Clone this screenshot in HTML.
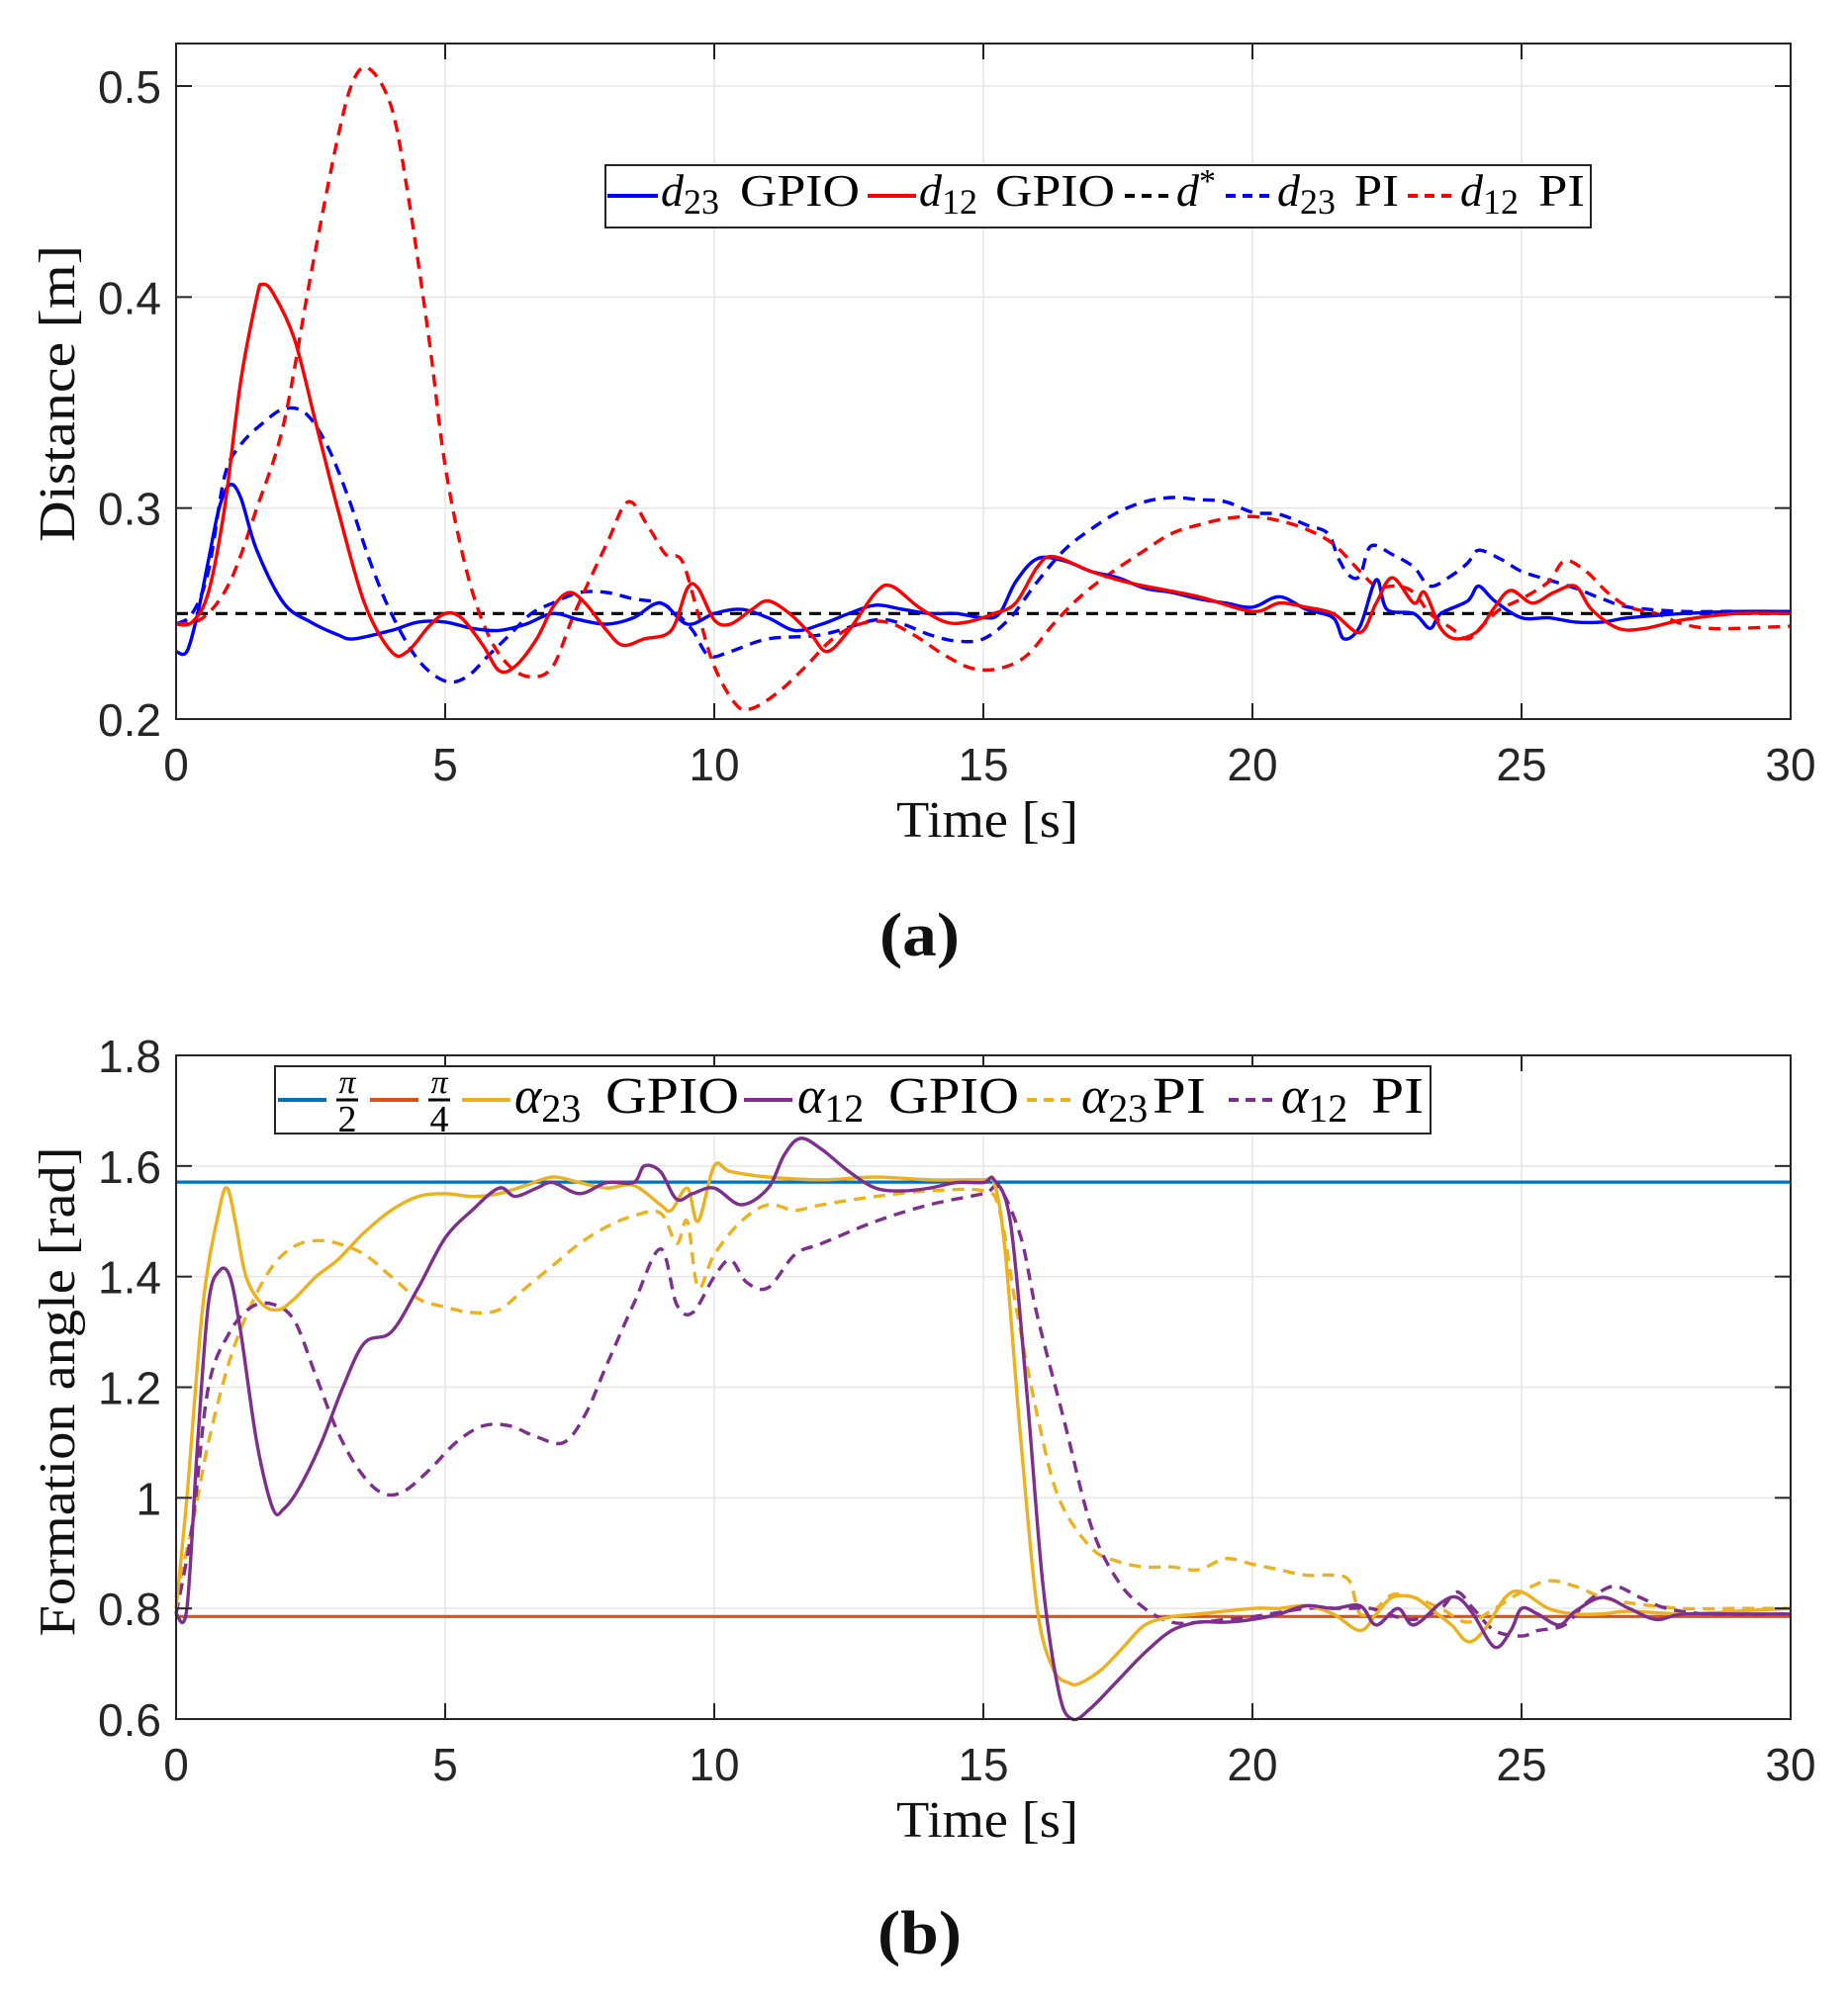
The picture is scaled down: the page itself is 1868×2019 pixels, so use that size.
<!DOCTYPE html>
<html><head><meta charset="utf-8"><style>
html,body{margin:0;padding:0;background:#fff;}
svg{display:block;}
.tick{font-family:"Liberation Sans",sans-serif;font-size:46px;fill:#262626;}
.lab{font-family:"Liberation Serif",serif;fill:#111;}
.leg{font-family:"Liberation Serif",serif;fill:#000;}
</style></head><body>
<svg id="fig" width="1868" height="2019" viewBox="0 0 1868 2019" xmlns="http://www.w3.org/2000/svg"></svg>
<script>
// ---------- Panel (a) data ----------
const xTicks = [0,5,10,15,20,25,30];
const yTicksA = [0.2,0.3,0.4,0.5];
const yTickLabelsA = ["0.2","0.3","0.4","0.5"];
const dStar = 0.25;
const d23gT = [0,0.2,0.4,0.6,0.8,1.0,1.2,1.5,2,2.5,3,3.3,4,4.5,5,5.5,6,6.5,7,7.5,8,8.5,9,9.5,10,10.5,11,11.5,12,12.5,13,13.5,14,14.5,15,15.3,15.6,16,16.5,17,17.5,18,18.5,19,19.5,20,20.5,21,21.5,21.7,22,22.3,22.5,23,23.3,23.5,24,24.2,24.5,25,25.5,26,26.5,27,28,29,30];
const d23gV = [0.232,0.232,0.25,0.275,0.3,0.311,0.305,0.28,0.255,0.246,0.24,0.238,0.242,0.246,0.246,0.243,0.242,0.245,0.25,0.247,0.245,0.248,0.255,0.245,0.25,0.252,0.248,0.242,0.245,0.25,0.254,0.252,0.25,0.25,0.248,0.25,0.265,0.276,0.275,0.27,0.267,0.262,0.26,0.257,0.255,0.253,0.258,0.252,0.248,0.238,0.244,0.266,0.252,0.25,0.243,0.25,0.256,0.263,0.256,0.248,0.248,0.246,0.246,0.248,0.25,0.251,0.251];
const d12gT = [0,0.3,0.6,0.9,1.2,1.5,1.6,1.8,2.2,2.6,3,3.5,4,4.3,4.7,5,5.3,5.7,6,6.3,6.7,7,7.3,7.6,8,8.3,8.7,9.2,9.5,9.7,10,10.3,10.7,11,11.4,11.8,12.1,12.5,13,13.3,13.8,14.3,14.7,15.2,15.6,16,16.3,17,17.5,18,19,20,20.5,21,21.5,22,22.3,22.6,23,23.2,23.5,23.8,24.2,24.5,24.8,25.2,25.6,26,26.3,26.8,27.3,28,29,30];
const d12gV = [0.245,0.246,0.26,0.3,0.36,0.4,0.406,0.402,0.38,0.34,0.3,0.255,0.232,0.232,0.244,0.25,0.248,0.235,0.223,0.225,0.238,0.253,0.26,0.255,0.242,0.235,0.238,0.242,0.262,0.262,0.247,0.245,0.252,0.256,0.25,0.24,0.232,0.242,0.26,0.263,0.253,0.246,0.246,0.25,0.255,0.272,0.277,0.27,0.266,0.263,0.258,0.251,0.255,0.253,0.25,0.241,0.255,0.267,0.255,0.26,0.243,0.238,0.242,0.253,0.261,0.255,0.26,0.263,0.252,0.243,0.243,0.247,0.25,0.25];
const d23pT = [0,0.3,0.6,0.9,1.2,1.6,2,2.4,2.8,3.2,3.6,4,4.5,5,5.4,5.8,6.2,6.6,7,7.5,8,8.5,9,9.3,9.6,9.9,10.3,11,12,13,13.5,14,14.5,15,15.5,16,16.5,17,17.5,18,18.5,19,19.5,20,20.5,21,21.4,21.6,21.8,22,22.2,22.6,23,23.3,23.7,24,24.2,24.6,25,25.5,26,26.5,27,28,29,30];
const d23pV = [0.245,0.25,0.27,0.315,0.33,0.34,0.347,0.345,0.33,0.305,0.275,0.25,0.228,0.218,0.22,0.23,0.24,0.25,0.255,0.26,0.26,0.257,0.255,0.25,0.242,0.23,0.232,0.238,0.24,0.247,0.245,0.24,0.237,0.238,0.248,0.265,0.28,0.29,0.298,0.303,0.305,0.304,0.303,0.298,0.297,0.292,0.288,0.276,0.268,0.268,0.282,0.278,0.272,0.263,0.268,0.274,0.28,0.276,0.27,0.266,0.262,0.257,0.253,0.251,0.251,0.25];
const d12pT = [0,0.5,1,1.5,2,2.5,3,3.3,3.6,4,4.3,4.7,5,5.4,5.8,6.2,6.6,7,7.4,8,8.4,8.8,9.1,9.4,9.7,10,10.4,10.7,11.2,11.7,12.2,12.7,13.2,13.7,14.3,14.8,15.3,15.8,16.3,16.8,17.3,18,18.5,19,19.5,20,20.5,21,21.5,22,22.3,22.7,23,23.3,23.7,24,24.3,24.6,25,25.5,25.8,26.2,26.6,27,27.5,28,28.5,29,30];
const d12pV = [0.245,0.248,0.265,0.3,0.34,0.41,0.475,0.503,0.508,0.49,0.45,0.38,0.32,0.27,0.24,0.225,0.22,0.225,0.25,0.283,0.303,0.29,0.278,0.275,0.25,0.225,0.207,0.205,0.213,0.225,0.238,0.245,0.246,0.24,0.23,0.224,0.224,0.23,0.245,0.258,0.268,0.28,0.288,0.292,0.295,0.296,0.294,0.29,0.283,0.27,0.263,0.263,0.26,0.25,0.243,0.238,0.245,0.252,0.257,0.265,0.275,0.27,0.26,0.253,0.25,0.245,0.243,0.243,0.244];

// ---------- Panel (b) data ----------
const yTicksB = [0.6,0.8,1.0,1.2,1.4,1.6,1.8];
const yTickLabelsB = ["0.6","0.8","1","1.2","1.4","1.6","1.8"];
const refHalfPi = 1.5708;
const refQuarterPi = 0.7854;
const a23gT = [0,0.2,0.5,0.8,0.95,1.1,1.3,1.6,1.9,2.2,2.6,3,3.5,4,4.5,5,5.5,6,6.5,7,7.5,8,8.5,9,9.2,9.5,9.7,10,10.3,11,12,13,14,15,15.2,15.4,15.7,16,16.3,16.6,16.8,17.2,17.6,18,18.5,19,20,20.5,21,21.5,22,22.3,22.6,23,23.3,23.7,24,24.3,24.7,25,25.5,26,26.5,27,28,29,30];
const a23gV = [0.8,1.0,1.35,1.52,1.56,1.5,1.4,1.35,1.34,1.36,1.4,1.43,1.48,1.52,1.545,1.55,1.545,1.55,1.565,1.58,1.57,1.56,1.565,1.53,1.52,1.56,1.5,1.6,1.59,1.58,1.575,1.58,1.575,1.575,1.57,1.45,1.1,0.8,0.69,0.665,0.665,0.69,0.73,0.77,0.785,0.79,0.8,0.8,0.805,0.79,0.76,0.79,0.82,0.82,0.8,0.77,0.74,0.76,0.82,0.83,0.8,0.79,0.79,0.795,0.79,0.795,0.8];
const a12gT = [0,0.2,0.4,0.6,0.8,1.0,1.2,1.5,1.8,2.0,2.3,2.7,3.1,3.5,4,4.5,5,5.5,6,6.3,6.7,7,7.5,8,8.5,8.7,9,9.3,9.6,10,10.5,11,11.3,11.6,12,12.5,13,13.5,14,14.5,15,15.2,15.5,15.8,16.1,16.4,16.65,17,17.5,18,18.5,19,19.5,20,20.5,21,21.5,22,22.3,22.7,23,23.5,23.8,24.1,24.5,24.8,25,25.3,25.7,26,26.5,27,27.5,28,29,30];
const a12gV = [0.79,0.8,1.1,1.35,1.41,1.4,1.3,1.1,0.98,0.98,1.02,1.1,1.2,1.28,1.3,1.38,1.47,1.52,1.56,1.545,1.56,1.57,1.55,1.57,1.57,1.6,1.59,1.54,1.55,1.56,1.53,1.56,1.62,1.65,1.63,1.59,1.56,1.555,1.56,1.57,1.57,1.575,1.5,1.2,0.85,0.65,0.6,0.62,0.67,0.72,0.76,0.775,0.775,0.78,0.79,0.805,0.8,0.805,0.77,0.8,0.77,0.81,0.82,0.79,0.73,0.76,0.8,0.79,0.77,0.795,0.82,0.8,0.78,0.79,0.79,0.79];
const a23pT = [0,0.3,0.6,1,1.4,1.8,2.2,2.6,3,3.5,4,4.5,5,5.5,6,6.5,7,7.5,8,8.5,9,9.3,9.5,9.7,10,10.5,11,11.5,12,13,14,15,15.3,15.6,16,16.4,17,17.5,18,18.5,19,19.5,20,20.5,21,21.5,21.8,22,22.3,22.6,23,23.5,24,24.5,25,25.5,26,26.5,27,28,29,30];
const a23pV = [0.82,0.95,1.1,1.25,1.35,1.42,1.455,1.465,1.46,1.44,1.4,1.36,1.345,1.335,1.34,1.38,1.42,1.46,1.49,1.51,1.515,1.46,1.5,1.38,1.44,1.5,1.53,1.52,1.53,1.545,1.555,1.555,1.52,1.35,1.15,1.0,0.91,0.885,0.875,0.875,0.87,0.89,0.88,0.87,0.86,0.86,0.85,0.79,0.8,0.825,0.82,0.8,0.775,0.8,0.83,0.85,0.84,0.82,0.81,0.8,0.8,0.8];
const a12pT = [0,0.3,0.6,1,1.4,1.8,2.2,2.6,3,3.4,3.8,4.2,4.7,5.2,5.7,6.2,6.7,7.2,7.6,8,8.5,9,9.3,9.6,10,10.3,10.6,11,11.5,12,13,14,15,15.3,15.7,16,16.5,17,17.5,18,18.5,19,19.5,20,21,21.7,22.2,22.5,23,23.5,23.8,24.1,24.5,25,25.3,25.8,26.2,26.7,27.2,27.7,28.5,30];
const a12pV = [0.79,0.95,1.2,1.3,1.345,1.35,1.32,1.22,1.12,1.05,1.01,1.01,1.05,1.1,1.13,1.13,1.11,1.1,1.15,1.24,1.35,1.45,1.35,1.335,1.4,1.43,1.39,1.38,1.44,1.46,1.5,1.53,1.55,1.56,1.47,1.33,1.14,0.95,0.85,0.8,0.775,0.775,0.78,0.785,0.8,0.8,0.8,0.79,0.78,0.8,0.83,0.8,0.76,0.75,0.76,0.77,0.81,0.84,0.82,0.8,0.79,0.79];

const NS = "http://www.w3.org/2000/svg";
const svg = document.getElementById('fig');
function mk(tag, attrs, parent){
  const e = document.createElementNS(NS, tag);
  for (const k in attrs) e.setAttribute(k, attrs[k]);
  (parent||svg).appendChild(e);
  return e;
}
const X0 = 178, X1 = 1810;
function xs(t){ return X0 + (t/30)*(X1-X0); }
function ysA(v){ return 727 - (v-0.2)/0.3*(727-87); }
function ysB(v){ return 1738 - (v-0.6)/1.2*(1738-1067); }

function panel(top, bottom, yTicks, yLabels, ys, name){
  const g = mk('g', {});
  
  
  mk('rect', {x:X0, y:top, width:X1-X0, height:bottom-top, fill:'#fff'}, g);
  xTicks.forEach(t=>{
    const l = mk('line', {x1:xs(t), x2:xs(t), y1:top, y2:bottom, stroke:'#e5e5e5', 'stroke-width':1.5}, g);
    
    
  });
  yTicks.forEach(v=>{
    const l = mk('line', {x1:X0, x2:X1, y1:ys(v), y2:ys(v), stroke:'#e5e5e5', 'stroke-width':1.5}, g);
    
    
  });
  return g;
}
function frame(top, bottom, yTicks, yLabels, ys){
  const g = mk('g', {});
  
  
  mk('rect', {x:X0, y:top, width:X1-X0, height:bottom-top, fill:'none', stroke:'#262626', 'stroke-width':2}, g);
  xTicks.forEach(t=>{
    mk('line', {x1:xs(t), x2:xs(t), y1:bottom, y2:bottom-16, stroke:'#262626', 'stroke-width':2}, g);
    mk('line', {x1:xs(t), x2:xs(t), y1:top, y2:top+16, stroke:'#262626', 'stroke-width':2}, g);
    const tx = mk('text', {x:xs(t), y:bottom+62, 'text-anchor':'middle', class:'tick'}, g);
    tx.textContent = String(t);
    
    
  });
  yTicks.forEach((v,i)=>{
    mk('line', {x1:X0, x2:X0+16, y1:ys(v), y2:ys(v), stroke:'#262626', 'stroke-width':2}, g);
    mk('line', {x1:X1, x2:X1-16, y1:ys(v), y2:ys(v), stroke:'#262626', 'stroke-width':2}, g);
    const tx = mk('text', {x:163, y:ys(v)+17, 'text-anchor':'end', class:'tick'}, g);
    tx.textContent = yLabels[i];
    
    
  });
}
function series(T, V, ys, color, dash, name){
  const P = T.map((t,i)=>[xs(t), ys(V[i])]);
  let d = 'M' + P[0][0].toFixed(1) + ',' + P[0][1].toFixed(1);
  for (let i=0;i<P.length-1;i++){
    const p0 = P[Math.max(0,i-1)], p1 = P[i], p2 = P[i+1], p3 = P[Math.min(P.length-1,i+2)];
    const k = 1/6;
    const c1 = [p1[0]+(p2[0]-p0[0])*k, p1[1]+(p2[1]-p0[1])*k];
    const c2 = [p2[0]-(p3[0]-p1[0])*k, p2[1]-(p3[1]-p1[1])*k];
    d += 'C' + c1[0].toFixed(1)+','+c1[1].toFixed(1)+' '+c2[0].toFixed(1)+','+c2[1].toFixed(1)+' '+p2[0].toFixed(1)+','+p2[1].toFixed(1);
  }
  const p = mk('path', {d:d, fill:'none', stroke:color, 'stroke-width':3.4, 'stroke-linejoin':'round'});
  if (dash) p.setAttribute('stroke-dasharray', dash);
  
  
}
function hline(v, ys, color, dash, name){
  const l = mk('line', {x1:X0, x2:X1, y1:ys(v), y2:ys(v), stroke:color, 'stroke-width':3.2});
  if (dash) l.setAttribute('stroke-dasharray', dash);
  
  
}

// Panel (a)
panel(44, 727, yTicksA, yTickLabelsA, ysA, 'distance-plot');
hline(dStar, ysA, '#000', '12,8', 'd-star-line');
series(d23pT, d23pV, ysA, '#0000ff', '12,8', 'd23-pi-line');
series(d12pT, d12pV, ysA, '#ff0000', '12,8', 'd12-pi-line');
series(d23gT, d23gV, ysA, '#0000ff', null, 'd23-gpio-line');
series(d12gT, d12gV, ysA, '#ff0000', null, 'd12-gpio-line');
frame(44, 727, yTicksA, yTickLabelsA, ysA);

// Panel (b)
panel(1067, 1738, yTicksB, yTickLabelsB, ysB, 'angle-plot');
hline(refHalfPi, ysB, '#0072BD', null, 'half-pi-line');
hline(refQuarterPi, ysB, '#D95319', null, 'quarter-pi-line');
series(a23pT, a23pV, ysB, '#EDB120', '12,8', 'alpha23-pi-line');
series(a12pT, a12pV, ysB, '#7E2F8E', '12,8', 'alpha12-pi-line');
series(a23gT, a23gV, ysB, '#EDB120', null, 'alpha23-gpio-line');
series(a12gT, a12gV, ysB, '#7E2F8E', null, 'alpha12-gpio-line');
frame(1067, 1738, yTicksB, yTickLabelsB, ysB);
</script>
<svg style="position:absolute;left:0;top:0" width="1868" height="2019" xmlns="http://www.w3.org/2000/svg">
  <text class="lab" font-size="52" transform="translate(75,398) rotate(-90)" text-anchor="middle" textLength="300" lengthAdjust="spacingAndGlyphs">Distance [m]</text>
  <text class="lab" font-size="52" x="906" y="846" textLength="184" lengthAdjust="spacingAndGlyphs">Time [s]</text>
  <text class="lab" font-size="62" font-weight="bold" x="889" y="966" textLength="81" lengthAdjust="spacingAndGlyphs">(a)</text>

  <g>
    <rect x="612" y="167" width="996" height="63" fill="#fff" stroke="#262626" stroke-width="2"/>
    <line x1="614" x2="665" y1="198" y2="198" stroke="#0000ff" stroke-width="4"/>
    <text class="leg" font-size="46" x="668" y="208"><tspan font-style="italic">d</tspan><tspan font-size="36" dy="8">23</tspan><tspan dy="-8" x="748" textLength="121" lengthAdjust="spacingAndGlyphs">GPIO</tspan></text>
    <line x1="877" x2="926" y1="198" y2="198" stroke="#ff0000" stroke-width="4"/>
    <text class="leg" font-size="46" x="929" y="208"><tspan font-style="italic">d</tspan><tspan font-size="36" dy="8">12</tspan><tspan dy="-8" x="1006" textLength="121" lengthAdjust="spacingAndGlyphs">GPIO</tspan></text>
    <line x1="1137" x2="1186" y1="198" y2="198" stroke="#000" stroke-width="4" stroke-dasharray="10,7"/>
    <text class="leg" font-size="46" x="1189" y="208"><tspan font-style="italic">d</tspan><tspan font-size="34" dy="-14">*</tspan></text>
    <line x1="1239" x2="1287" y1="198" y2="198" stroke="#0000ff" stroke-width="4" stroke-dasharray="10,7"/>
    <text class="leg" font-size="46" x="1291" y="208"><tspan font-style="italic">d</tspan><tspan font-size="36" dy="8">23</tspan><tspan dy="-8" x="1369" textLength="45" lengthAdjust="spacingAndGlyphs">PI</tspan></text>
    <line x1="1423" x2="1471" y1="198" y2="198" stroke="#ff0000" stroke-width="4" stroke-dasharray="10,7"/>
    <text class="leg" font-size="46" x="1476" y="208"><tspan font-style="italic">d</tspan><tspan font-size="36" dy="8">12</tspan><tspan dy="-8" x="1555" textLength="47" lengthAdjust="spacingAndGlyphs">PI</tspan></text>
  </g>

  <text class="lab" font-size="52" transform="translate(75,1407) rotate(-90)" text-anchor="middle" textLength="495" lengthAdjust="spacingAndGlyphs">Formation angle [rad]</text>
  <text class="lab" font-size="52" x="906" y="1857" textLength="184" lengthAdjust="spacingAndGlyphs">Time [s]</text>
  <text class="lab" font-size="62" font-weight="bold" x="887" y="1975" textLength="85" lengthAdjust="spacingAndGlyphs">(b)</text>

  <g>
    <rect x="278" y="1078" width="1168" height="68" fill="#fff" stroke="#262626" stroke-width="2"/>
    <line x1="281" x2="330" y1="1112" y2="1112" stroke="#0072BD" stroke-width="4"/>
    <g>
      <text class="leg" font-size="34" x="351" y="1105" text-anchor="middle" font-style="italic">π</text>
      <line x1="340" x2="362" y1="1112" y2="1112" stroke="#000" stroke-width="3"/>
      <text class="leg" font-size="38" x="351" y="1144" text-anchor="middle">2</text>
    </g>
    <line x1="374" x2="423" y1="1112" y2="1112" stroke="#D95319" stroke-width="4"/>
    <g>
      <text class="leg" font-size="34" x="444" y="1105" text-anchor="middle" font-style="italic">π</text>
      <line x1="433" x2="455" y1="1112" y2="1112" stroke="#000" stroke-width="3"/>
      <text class="leg" font-size="38" x="444" y="1144" text-anchor="middle">4</text>
    </g>
    <line x1="467" x2="516" y1="1112" y2="1112" stroke="#EDB120" stroke-width="4"/>
    <text class="leg" font-size="52" x="520" y="1125"><tspan font-style="italic">α</tspan><tspan font-size="40" dy="9">23</tspan><tspan dy="-9" x="612" textLength="135" lengthAdjust="spacingAndGlyphs">GPIO</tspan></text>
    <line x1="752" x2="801" y1="1112" y2="1112" stroke="#7E2F8E" stroke-width="4"/>
    <text class="leg" font-size="52" x="806" y="1125"><tspan font-style="italic">α</tspan><tspan font-size="40" dy="9">12</tspan><tspan dy="-9" x="898" textLength="132" lengthAdjust="spacingAndGlyphs">GPIO</tspan></text>
    <line x1="1038" x2="1088" y1="1112" y2="1112" stroke="#EDB120" stroke-width="4" stroke-dasharray="10,7"/>
    <text class="leg" font-size="52" x="1093" y="1125"><tspan font-style="italic">α</tspan><tspan font-size="40" dy="9">23</tspan><tspan dy="-9" x="1165" textLength="54" lengthAdjust="spacingAndGlyphs">PI</tspan></text>
    <line x1="1242" x2="1291" y1="1112" y2="1112" stroke="#7E2F8E" stroke-width="4" stroke-dasharray="10,7"/>
    <text class="leg" font-size="52" x="1295" y="1125"><tspan font-style="italic">α</tspan><tspan font-size="40" dy="9">12</tspan><tspan dy="-9" x="1386" textLength="53" lengthAdjust="spacingAndGlyphs">PI</tspan></text>
  </g>
</svg>
</body></html>
